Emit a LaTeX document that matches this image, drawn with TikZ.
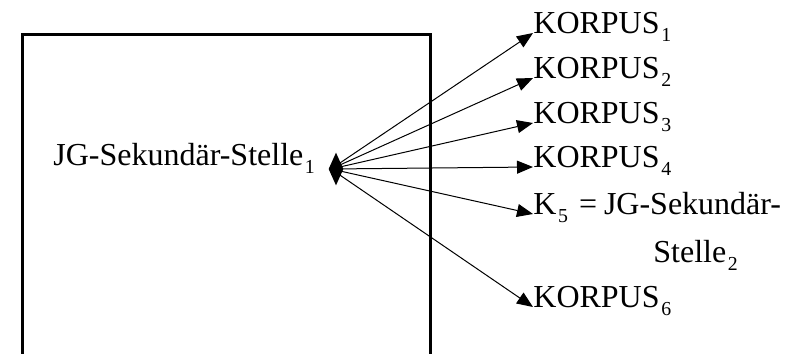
\documentclass[tikz,border=0pt]{standalone}
\usepackage{fontspec}
\setmainfont{Liberation Serif}
\usetikzlibrary{arrows.meta,shapes.geometric}
\newcommand{\lowsub}[1]{\kern0.8pt\raisebox{-4.3pt}{\fontsize{9.9}{10}\selectfont #1}}
\tikzset{
  lbl/.style={anchor=base west,inner sep=0pt,font=\fontsize{16}{18}\selectfont},
  conn/.style={line width=0.5pt,-{Triangle[length=8pt,width=6.5pt]}},
  frame/.style={line width=1.5pt},
  hub/.style={diamond,fill=black,draw=none,minimum width=7.5pt,minimum height=16.5pt,inner sep=0pt}
}
\begin{document}
\begin{tikzpicture}[x=0.5pt,y=-0.5pt]
\useasboundingbox (0,0) rectangle (794,354);
\draw[frame] (22,358) -- (22,34.7) -- (430,34.7) -- (430,358);
\node[lbl] (src) at (53,165) {JG-Sekundär-Stelle\lowsub{1}};
\coordinate (o) at (331,169);
\node[lbl] (k1) at (533,33) {KORPUS\lowsub{1}};
\node[lbl] (k2) at (533,78) {KORPUS\lowsub{2}};
\node[lbl] (k3) at (533,123) {KORPUS\lowsub{3}};
\node[lbl] (k4) at (533,167) {KORPUS\lowsub{4}};
\node[lbl] (k5) at (533,214) {K\lowsub{5}\hspace{5.5pt}=\hspace{3.5pt}JG-Sekundär-};
\node[lbl] (k5b) at (653,262) {Stelle\lowsub{2}};
\node[lbl] (k6) at (533,307) {KORPUS\lowsub{6}};
\foreach \t in {k1,k2,k3,k4,k5,k6}
  \draw[conn] (o) -- (\t.base west);
\node[hub] (h) at (336,169) {};
\end{tikzpicture}
\end{document}
